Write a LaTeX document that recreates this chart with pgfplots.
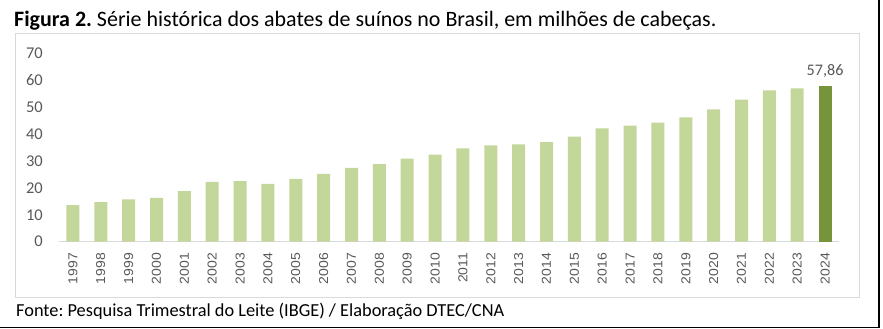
\documentclass[border=0pt]{standalone}
\usepackage{pgfplots}
\pgfplotsset{compat=1.18}
\usepackage{fontspec}
\setmainfont{Carlito}
\newfontfamily\arialf{Liberation Sans}
\definecolor{lightgr}{HTML}{C4D79B}
\definecolor{darkgr}{HTML}{77933C}
\definecolor{txtgray}{HTML}{595959}
\definecolor{linegray}{HTML}{D9D9D9}
\frenchspacing
\begin{document}
\begin{tikzpicture}
\useasboundingbox (0,0) rectangle (883bp,-329bp);
\fill[white] (0,0) rectangle (883bp,-329bp);
\draw[linegray, line width=1bp] (15bp,-33bp) rectangle (859bp,-297bp);
\draw[black, line width=1.6bp] (0,-327.6bp) -- (879.2bp,-327.6bp) -- (879.2bp,0);
\node[anchor=base west, inner sep=0pt, font=\fontsize{22.05}{24}\selectfont] at (14bp,-26.7bp)
  {\textbf{Figura 2.} Série histórica dos abates de suínos no Brasil, em milhões de cabeças.};
\node[anchor=base west, inner sep=0pt, font=\fontsize{18.4}{20}\selectfont] at (16bp,-316.7bp)
  {Fonte: Pesquisa Trimestral do Leite (IBGE) / Elaboração DTEC/CNA};
\begin{axis}[
  at={(59bp,-241.7bp)}, anchor=south west,
  scale only axis, width=780bp, height=188.4bp,
  xmin=-0.5, xmax=27.5, ymin=0, ymax=70,
  ybar, bar width=13bp, bar shift=0pt,
  axis x line*=bottom, axis y line*=left,
  x axis line style={draw=linegray, line width=1bp},
  y axis line style={draw=none},
  major tick length=0pt,
  ytick={0,10,...,70},
  xtick={0,...,27},
  xticklabels={1997,1998,1999,2000,2001,2002,2003,2004,2005,2006,2007,2008,2009,2010,2011,2012,2013,2014,2015,2016,2017,2018,2019,2020,2021,2022,2023,2024},
  /pgf/number format/assume math mode=true,
  yticklabel style={anchor=east, inner sep=0pt, xshift=-16bp, text=txtgray, font=\fontsize{16.5}{18}\selectfont},
  xticklabel style={rotate=90, anchor=east, inner sep=0pt, text=txtgray, font=\arialf\fontsize{13}{14}\selectfont, xscale=1.08},
  xticklabel shift=11bp,
  clip=false,
]
\addplot[fill=lightgr, draw=none] coordinates {
(0,13.6) (1,14.7) (2,15.7) (3,16.3) (4,18.8) (5,22.2) (6,22.5) (7,21.5)
(8,23.3) (9,25.2) (10,27.4) (11,28.8) (12,30.9) (13,32.4) (14,34.7) (15,35.8)
(16,36.2) (17,37.0) (18,39.0) (19,42.1) (20,43.1) (21,44.2) (22,46.2) (23,49.2)
(24,52.8) (25,56.2) (26,57.0)
};
\addplot[fill=darkgr, draw=none,
  nodes near coords,
  nodes near coords style={inner sep=0pt, yshift=8bp, text=txtgray, font=\fontsize{16.2}{18}\selectfont,
    /pgf/number format/.cd, fixed, fixed zerofill, precision=2, use comma, assume math mode=true}
] coordinates {(27,57.86)};
\end{axis}
\end{tikzpicture}
\end{document}
